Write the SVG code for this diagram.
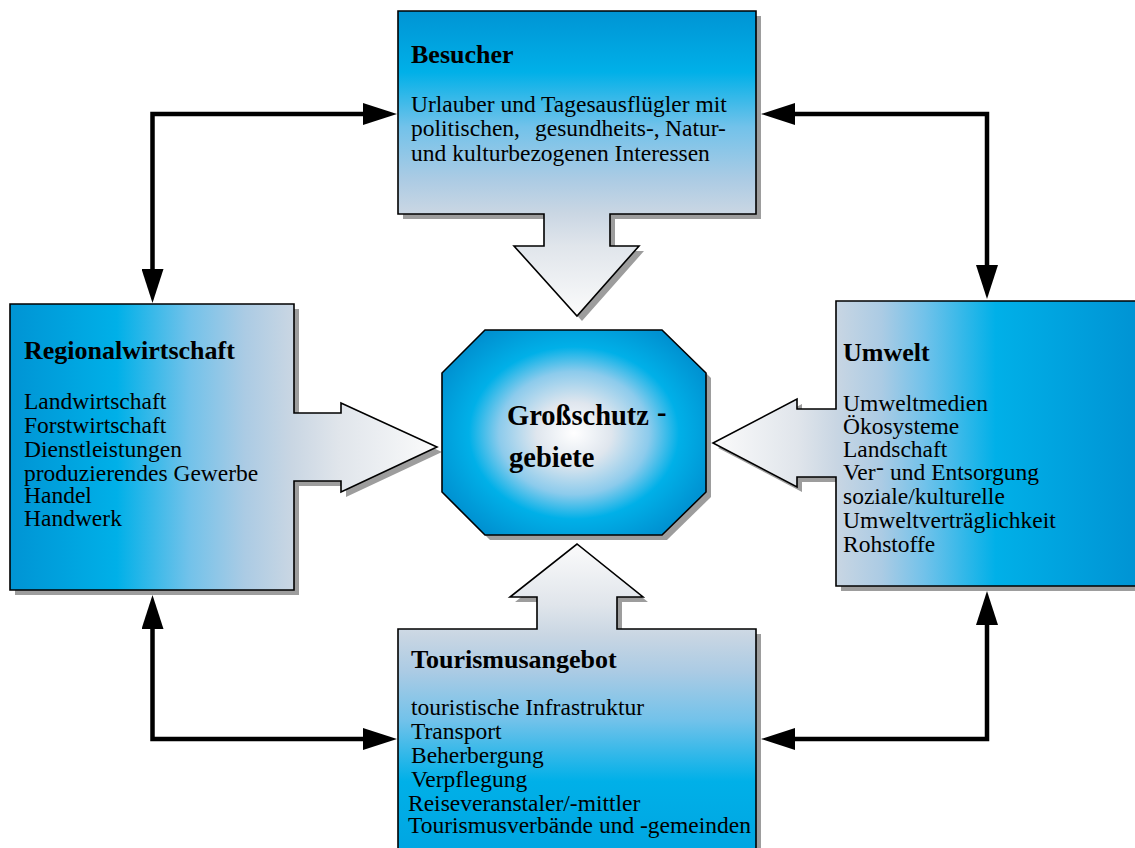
<svg xmlns="http://www.w3.org/2000/svg" width="1135" height="848" viewBox="0 0 1135 848">
<style>
.shape{stroke:#000;stroke-width:1.6;stroke-linejoin:miter}
.shadow{fill:#9d9d9d}
.title{font-family:"Liberation Serif","Times New Roman",serif;font-weight:bold;font-size:26px;fill:#000}
.body{font-family:"Liberation Serif","Times New Roman",serif;font-size:23.5px;fill:#000}
.center{font-family:"Liberation Serif","Times New Roman",serif;font-weight:bold;font-size:28.5px;fill:#000}
.conn{fill:none;stroke:#000;stroke-width:4.5;stroke-linejoin:miter}
</style>
<defs>
<marker id="ah" viewBox="0 0 34 22" refX="4" refY="11" markerWidth="34" markerHeight="22" markerUnits="userSpaceOnUse" orient="auto-start-reverse">
<path d="M0,0 L34,11 L0,22 Z" fill="#000"/>
</marker>
<linearGradient id="gTop" gradientUnits="userSpaceOnUse" x1="0" y1="11" x2="0" y2="316">
<stop offset="0" stop-color="#0094d4"/>
<stop offset="0.2" stop-color="#00b0e8"/>
<stop offset="0.38" stop-color="#72c2ea"/>
<stop offset="0.55" stop-color="#abcbe4"/>
<stop offset="0.66" stop-color="#c9d6e3"/>
<stop offset="0.77" stop-color="#e0e5eb"/>
<stop offset="1" stop-color="#fbfbfb"/>
</linearGradient>
<linearGradient id="gLeft" gradientUnits="userSpaceOnUse" x1="10" y1="0" x2="437" y2="0">
<stop offset="0" stop-color="#0094d4"/>
<stop offset="0.25" stop-color="#00b0e8"/>
<stop offset="0.42" stop-color="#72c2ea"/>
<stop offset="0.55" stop-color="#abcbe4"/>
<stop offset="0.66" stop-color="#c9d6e3"/>
<stop offset="0.77" stop-color="#e0e5eb"/>
<stop offset="1" stop-color="#fbfbfb"/>
</linearGradient>
<linearGradient id="gRight" gradientUnits="userSpaceOnUse" x1="1135" y1="0" x2="713" y2="0">
<stop offset="0" stop-color="#0094d4"/>
<stop offset="0.33" stop-color="#00b0e8"/>
<stop offset="0.5" stop-color="#72c2ea"/>
<stop offset="0.6" stop-color="#abcbe4"/>
<stop offset="0.71" stop-color="#c9d6e3"/>
<stop offset="0.8" stop-color="#e0e5eb"/>
<stop offset="1" stop-color="#fbfbfb"/>
</linearGradient>
<linearGradient id="gBottom" gradientUnits="userSpaceOnUse" x1="0" y1="848" x2="0" y2="544">
<stop offset="0" stop-color="#00a6e2"/>
<stop offset="0.22" stop-color="#00b0e8"/>
<stop offset="0.42" stop-color="#72c2ea"/>
<stop offset="0.58" stop-color="#abcbe4"/>
<stop offset="0.7" stop-color="#c9d6e3"/>
<stop offset="0.8" stop-color="#e0e5eb"/>
<stop offset="1" stop-color="#fbfbfb"/>
</linearGradient>
<radialGradient id="gCenter" cx="574" cy="433" r="150" gradientUnits="userSpaceOnUse" gradientTransform="translate(574 433) scale(1 0.82) translate(-574 -433)">
<stop offset="0" stop-color="#ffffff"/>
<stop offset="0.25" stop-color="#dfe6ee"/>
<stop offset="0.5" stop-color="#8ccbec"/>
<stop offset="0.7" stop-color="#00b0e8"/>
<stop offset="1" stop-color="#0090d0"/>
</radialGradient>
</defs>

<g id="connectors">
<path class="conn" d="M367,114 H152.5 V273" marker-start="url(#ah)" marker-end="url(#ah)"/>
<path class="conn" d="M791,114 H987 V269" marker-start="url(#ah)" marker-end="url(#ah)"/>
<path class="conn" d="M152.5,625 V739 H367" marker-start="url(#ah)" marker-end="url(#ah)"/>
<path class="conn" d="M987,621 V739 H791" marker-start="url(#ah)" marker-end="url(#ah)"/>
</g>

<g id="besucher">
<path class="shadow" transform="translate(5 5)" d="M398,11 H756 V214 H610 V246 H639 L577,316 L514,246 H544 V214 H398 Z"/>
<path class="shape" fill="url(#gTop)" d="M398,11 H756 V214 H610 V246 H639 L577,316 L514,246 H544 V214 H398 Z"/>
<text class="title" x="411" y="63">Besucher</text>
<text class="body" x="411" y="112">Urlauber und Tagesausflügler mit</text>
<text class="body" y="136"><tspan x="411">politischen,</tspan><tspan x="535">gesundheits-,</tspan><tspan x="665">Natur-</tspan></text>
<text class="body" x="411" y="160.5">und kulturbezogenen Interessen</text>
</g>

<g id="regionalwirtschaft">
<path class="shadow" transform="translate(5 5)" d="M10,304 H294 V413 H341 V403 L437,447 L341,492 V481 H294 V590 H10 Z"/>
<path class="shape" fill="url(#gLeft)" d="M10,304 H294 V413 H341 V403 L437,447 L341,492 V481 H294 V590 H10 Z"/>
<text class="title" x="24" y="359">Regionalwirtschaft</text>
<text class="body" x="24" y="409">Landwirtschaft</text>
<text class="body" x="24" y="433">Forstwirtschaft</text>
<text class="body" x="24" y="457">Dienstleistungen</text>
<text class="body" x="24" y="481">produzierendes Gewerbe</text>
<text class="body" x="24" y="503">Handel</text>
<text class="body" x="24" y="526">Handwerk</text>
</g>

<g id="umwelt">
<path class="shadow" transform="translate(5 5)" d="M836,301 H1145 V586 H836 V477 H797 V487 L713,443 L797,399 V409 H836 Z"/>
<path class="shape" fill="url(#gRight)" d="M836,301 H1145 V586 H836 V477 H797 V487 L713,443 L797,399 V409 H836 Z"/>
<text class="title" x="843" y="361">Umwelt</text>
<text class="body" x="843" y="411">Umweltmedien</text>
<text class="body" x="843" y="433.5">Ökosysteme</text>
<text class="body" x="843" y="457">Landschaft</text>
<text class="body" y="479.5"><tspan x="843">Ver</tspan><tspan x="876" dy="-5">-</tspan><tspan x="890" dy="5">und Entsorgung</tspan></text>
<text class="body" x="843" y="503.5">soziale/kulturelle</text>
<text class="body" x="843" y="527.5">Umweltverträglichkeit</text>
<text class="body" x="843" y="552">Rohstoffe</text>
</g>

<g id="tourismusangebot">
<path class="shadow" transform="translate(5 5)" d="M398,629 H537 V597 H510 L577,544 L643,597 H617 V629 H756 V870 H398 Z"/>
<path class="shape" fill="url(#gBottom)" d="M398,629 H537 V597 H510 L577,544 L643,597 H617 V629 H756 V870 H398 Z"/>
<text class="title" x="411" y="668">Tourismusangebot</text>
<text class="body" x="411" y="715">touristische Infrastruktur</text>
<text class="body" x="411" y="739">Transport</text>
<text class="body" x="411" y="763">Beherbergung</text>
<text class="body" x="411" y="787">Verpflegung</text>
<text class="body" x="408" y="811">Reiseveranstaler/-mittler</text>
<text class="body" x="408" y="833">Tourismusverbände und -gemeinden</text>
</g>

<g id="grossschutzgebiete">
<path class="shadow" transform="translate(5 5)" d="M485,330 H662 L706,373 V492 L662,535 H485 L442,492 V373 Z"/>
<path class="shape" fill="url(#gCenter)" d="M485,330 H662 L706,373 V492 L662,535 H485 L442,492 V373 Z"/>
<text class="center" x="507" y="425">Großschutz</text>
<text class="center" x="657" y="422">-</text>
<text class="center" x="509" y="467">gebiete</text>
</g>
</svg>
